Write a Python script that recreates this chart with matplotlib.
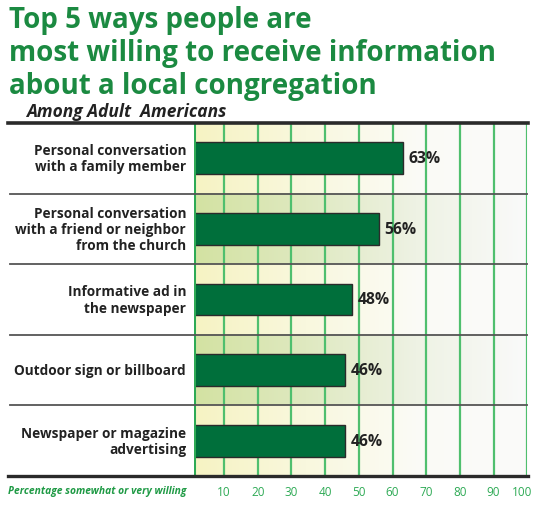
import numpy as np
import matplotlib
matplotlib.use("Agg")
import matplotlib.pyplot as plt
from matplotlib.lines import Line2D
from matplotlib.colors import LinearSegmentedColormap

# ---- data ----
categories = [
    "Personal conversation\nwith a family member",
    "Personal conversation\nwith a friend or neighbor\nfrom the church",
    "Informative ad in\nthe newspaper",
    "Outdoor sign or billboard",
    "Newspaper or magazine\nadvertising",
]
values = [63, 56, 48, 46, 46]
tick_values = [10, 20, 30, 40, 50, 60, 70, 80, 90, 100]
title_lines = ["Top 5 ways people are",
               "most willing to receive information",
               "about a local congregation"]
subtitle = "Among Adult  Americans"
xlabel = "Percentage somewhat or very willing"

W, H = 555, 510
FONT = "Open Sans"
GREEN_T = "#1b8a41"
BAR = "#006f3b"
GRID = "#4fbf6e"

fig = plt.figure(figsize=(W / 100, H / 100), dpi=100)
fig.patch.set_facecolor("white")

def fx(px):
    return px / W

def fy(py):
    return 1 - py / H

ax_left, ax_right, ax_top, ax_bot = 193.7, 527.3, 124, 477
ax = fig.add_axes([fx(ax_left), fy(ax_bot), fx(ax_right - ax_left), (ax_bot - ax_top) / H])
for s in ax.spines.values():
    s.set_visible(False)
ax.set_xticks([])
ax.set_yticks([])

# row gradients
cm_yellow = LinearSegmentedColormap.from_list("y", ["#f6f3c3", "#f9f8de", "#fbfbf6", "#fafafa"])
cm_green = LinearSegmentedColormap.from_list("g", ["#d3e2a2", "#dfe9c0", "#eef2e4", "#fafafa"])
grad = np.linspace(0, 1, 256).reshape(1, -1)
for i in range(len(categories)):
    cm = cm_yellow if i % 2 == 0 else cm_green
    ax.imshow(grad, cmap=cm, extent=[1, 100, i + 1, i], aspect="auto", zorder=0,
              interpolation="bilinear")
ax.set_xlim(1, 100)
ax.set_ylim(len(categories), 0)

# gridlines
for t in tick_values:
    ax.axvline(t, color=GRID, lw=1.6, zorder=1)
ax.axvline(1, color="#2eaa55", lw=2.2, zorder=3)

# bars
y = np.arange(len(categories)) + 0.5
ax.barh(y, values, left=0, height=0.45, color=BAR, edgecolor="#2b2b2b", lw=1.0, zorder=2)
for yi, v in zip(y, values):
    ax.text(v + 1.6, yi, f"{v}%", va="center", ha="left", fontsize=11.3, fontweight="bold",
            color="#222222", family=FONT, zorder=4)

# category labels
for i, c in enumerate(categories):
    yc = ax_top + (i + 0.5) * (ax_bot - ax_top) / len(categories)
    fig.text(fx(186), fy(yc), c, ha="right", va="center", fontsize=9.8, fontweight="bold",
             color="#222222", family=FONT, linespacing=1.2)

# separators
for i in range(1, len(categories)):
    yp = ax_top + i * (ax_bot - ax_top) / len(categories)
    fig.add_artist(Line2D([fx(10), fx(527)], [fy(yp), fy(yp)], color="#555555", lw=1.3,
                          transform=fig.transFigure, zorder=5))
fig.add_artist(Line2D([fx(8), fx(528)], [fy(ax_top), fy(ax_top)], color="#2a2a2a", lw=2.6,
                      transform=fig.transFigure, zorder=5))
fig.add_artist(Line2D([fx(8), fx(528)], [fy(ax_bot), fy(ax_bot)], color="#2a2a2a", lw=2.4,
                      transform=fig.transFigure, zorder=5))

# tick labels
for t in tick_values:
    xp = 190.3 + t * 3.37
    if t == 100:
        xp = 522
    fig.text(fx(xp), fy(493), str(t), ha="center", va="center", fontsize=8.5,
             color="#2eaa55", family=FONT)
fig.text(fx(8), fy(492), xlabel, ha="left", va="center", fontsize=7.4, fontweight="bold",
         style="italic", color="#1f9a45", family=FONT)

# title
for k, line in enumerate(title_lines):
    fig.text(fx(9), fy(28 + k * 33), line, ha="left", va="baseline", fontsize=20,
             fontweight="bold", color=GREEN_T, family=FONT)
fig.text(fx(26), fy(112), subtitle, ha="left", va="center", fontsize=12.5, fontweight="bold",
         style="italic", color="#222222", family=FONT)

fig.savefig("out.png", dpi=100, facecolor="white")
